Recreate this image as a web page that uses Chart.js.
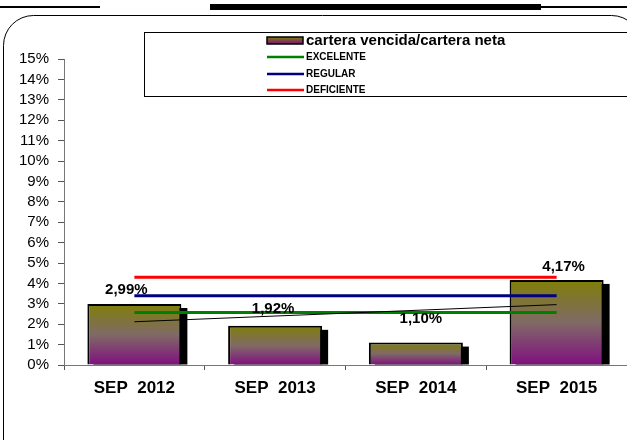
<!DOCTYPE html>
<html>
<head>
<meta charset="utf-8">
<script src="https://cdn.jsdelivr.net/npm/chart.js@4/dist/chart.umd.min.js"></script>
<style>
  html, body { margin: 0; padding: 0; background: #fff; }
  #wrap { width: 627px; height: 440px; position: relative; }
</style>
</head>
<body>
<div id="wrap"><canvas id="chart"></canvas></div>
<script>
// datos
const periodos = ['SEP  2012', 'SEP  2013', 'SEP  2014', 'SEP  2015'];
const carteraVencida = [2.99, 1.92, 1.10, 4.17];
const excelente = [2.57, 2.57, 2.57, 2.57];
const regular = [3.40, 3.40, 3.40, 3.40];
const deficiente = [4.30, 4.30, 4.30, 4.30];
const tendencia = [2.12, null, null, 2.96];
const yTicks = [0, 1, 2, 3, 4, 5, 6, 7, 8, 9, 10, 11, 12, 13, 14, 15];

const FONT = '"Liberation Sans", Arial, sans-serif';

// degradado de cada barra (oliva arriba, morado abajo)
function barGradient(context) {
    const chart = context.chart;
    if (!chart.chartArea) return '#808000';
    const y = chart.scales.y;
    const top = y.getPixelForValue(context.raw);
    const bottom = y.getPixelForValue(0);
    const g = chart.ctx.createLinearGradient(0, top, 0, bottom);
    g.addColorStop(0, '#7f7f08');
    g.addColorStop(0.5, '#806a66');
    g.addColorStop(1, '#800f80');
    return g;
}

// sombra negra detras de las barras
const barShadow = {
    id: 'barShadow',
    beforeDatasetsDraw(chart) {
        const ctx = chart.ctx;
        const area = chart.chartArea;
        const meta = chart.getDatasetMeta(0);
        ctx.save();
        ctx.beginPath();
        ctx.rect(area.left, area.top, area.right - area.left, area.bottom - area.top);
        ctx.clip();
        ctx.fillStyle = '#000';
        meta.data.forEach(bar => {
            const p = bar.getProps(['x', 'y', 'base', 'width']);
            ctx.fillRect(p.x - p.width / 2 + 6, p.y + 4, p.width, p.base - p.y - 4);
        });
        ctx.restore();
    }
};

// etiquetas de valor sobre las barras
const valueLabels = {
    id: 'valueLabels',
    afterDatasetsDraw(chart) {
        const ctx = chart.ctx;
        const meta = chart.getDatasetMeta(0);
        const nudge = [[-8, -14], [-2, -17], [5, -24], [7, -13]];
        ctx.save();
        ctx.font = 'bold 15px ' + FONT;
        ctx.fillStyle = '#000';
        ctx.textAlign = 'center';
        ctx.textBaseline = 'middle';
        meta.data.forEach((bar, i) => {
            const txt = carteraVencida[i].toFixed(2).replace('.', ',') + '%';
            ctx.fillText(txt, bar.x + nudge[i][0], bar.y + nudge[i][1]);
        });
        ctx.restore();
    }
};

// marco, lineas superiores y leyenda
const decoration = {
    id: 'decoration',
    afterDraw(chart) {
        const ctx = chart.ctx;
        ctx.save();
        ctx.fillStyle = '#000';
        ctx.fillRect(0, 6, 100, 2);
        ctx.fillRect(210, 4, 331, 6);
        ctx.fillRect(541, 6, 86, 2);

        ctx.strokeStyle = '#000';
        ctx.lineWidth = 1;
        ctx.beginPath();
        ctx.roundRect(3.5, 15.5, 638, 470, 30);
        ctx.stroke();

        // caja de leyenda
        ctx.strokeRect(144.5, 32.5, 520, 64);

        const ds = chart.data.datasets;
        const g = ctx.createLinearGradient(0, 37, 0, 44);
        g.addColorStop(0, '#7f7f08');
        g.addColorStop(1, '#800f80');
        ctx.fillStyle = g;
        ctx.fillRect(267, 37, 36, 7);
        ctx.lineWidth = 1.5;
        ctx.strokeRect(267, 37, 36, 7);
        ctx.fillStyle = '#000';
        ctx.textBaseline = 'middle';
        ctx.font = 'bold 15px ' + FONT;
        ctx.fillText(ds[0].label, 306, 41);

        ctx.font = 'bold 10px ' + FONT;
        [[1, 57], [2, 74], [3, 90]].forEach(([i, y]) => {
            ctx.strokeStyle = ds[i].borderColor;
            ctx.lineWidth = 2.5;
            ctx.beginPath();
            ctx.moveTo(267, y);
            ctx.lineTo(304, y);
            ctx.stroke();
            ctx.fillText(ds[i].label, 306, y);
        });
        ctx.restore();
    }
};

const lineStyle = {
    type: 'line',
    borderWidth: 3,
    pointRadius: 0,
    fill: false,
    order: 1
};

new Chart(document.getElementById('chart'), {
    type: 'bar',
    data: {
        labels: periodos,
        datasets: [
            {
                label: 'cartera vencida/cartera neta',
                data: carteraVencida,
                backgroundColor: barGradient,
                borderColor: '#000',
                borderWidth: 2,
                barPercentage: 0.668,
                categoryPercentage: 1,
                order: 10
            },
            Object.assign({ label: 'EXCELENTE', data: excelente, borderColor: '#008000' }, lineStyle),
            Object.assign({ label: 'REGULAR', data: regular, borderColor: '#000080' }, lineStyle),
            Object.assign({ label: 'DEFICIENTE', data: deficiente, borderColor: '#ff0000' }, lineStyle),
            Object.assign({ label: 'tendencia', data: tendencia, borderColor: '#000', spanGaps: true },
                lineStyle, { borderWidth: 1, order: 0 })
        ]
    },
    options: {
        responsive: true,
        maintainAspectRatio: false,
        animation: false,
        layout: { padding: { top: 59, left: 0, right: 0, bottom: 0 } },
        plugins: {
            legend: { display: false },
            tooltip: { enabled: false }
        },
        scales: {
            x: {
                grid: { display: true, drawOnChartArea: false, tickLength: 5, color: '#555' },
                border: { color: '#777', width: 1 },
                ticks: {
                    color: '#000',
                    padding: 8,
                    font: { family: FONT, size: 17, weight: 'bold' }
                },
                afterFit(scale) { scale.height = 75; }
            },
            y: {
                min: 0,
                max: 15,
                afterBuildTicks(scale) { scale.ticks = yTicks.map(v => ({ value: v })); },
                grid: { display: true, drawOnChartArea: false, tickLength: 6, color: '#555' },
                border: { color: '#777', width: 1 },
                ticks: {
                    color: '#000',
                    padding: 9,
                    autoSkip: false,
                    font: { family: FONT, size: 15 },
                    callback: v => v + '%'
                },
                afterFit(scale) { scale.width = 64; }
            }
        }
    },
    plugins: [barShadow, valueLabels, decoration]
});
</script>
</body>
</html>
